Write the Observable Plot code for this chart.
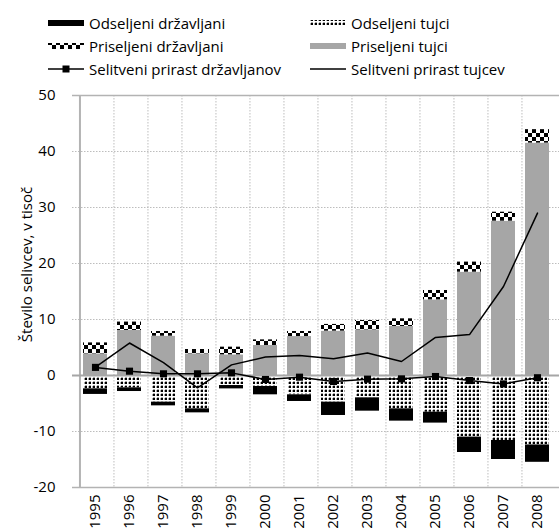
<!DOCTYPE html>
<html><head><meta charset="utf-8">
<script src="https://cdn.jsdelivr.net/npm/d3@7"></script>
<script src="https://cdn.jsdelivr.net/npm/@observablehq/plot@0.6"></script>
<style>
body{margin:0;background:#fff;font-family:"Open Sans", sans-serif;}
#legend{height:85px;box-sizing:border-box;padding:11px 0 0 48px;display:grid;grid-template-columns:262px 260px;grid-auto-rows:23px;font-size:15px;color:#000;}
.item{display:flex;align-items:center;white-space:nowrap;}
.item svg{margin-right:5px;flex:none;}
#chart svg{display:block;}
</style></head><body>
<svg width="0" height="0" style="position:absolute">
<defs>
<pattern id="pDots" width="4" height="4" patternUnits="userSpaceOnUse">
 <rect width="4" height="4" fill="#fff"/>
 <rect x="1" y="1" width="2" height="2" fill="#000"/>
 <rect x="0" y="1" width="1" height="2" fill="#aaa"/>
 <rect x="1" y="0" width="2" height="1" fill="#aaa"/>
</pattern>
<pattern id="pCheck" width="8" height="8" patternUnits="userSpaceOnUse">
 <rect width="8" height="8" fill="#fff"/>
 <rect x="0" y="0" width="4" height="4" fill="#000"/>
 <rect x="4" y="4" width="4" height="4" fill="#000"/>
</pattern>
</defs></svg>
<div id="legend"></div>
<div id="chart"></div>
<script>
const years = ["1995","1996","1997","1998","1999","2000","2001","2002","2003","2004","2005","2006","2007","2008"];
const odseljeniDrzavljani = [1.0, 0.66, 0.66, 0.72, 0.6, 1.49, 1.19, 2.38, 2.38, 2.2, 1.95, 2.75, 3.4, 3.1];
const odseljeniTujci = [2.38, 2.2, 4.76, 5.95, 1.79, 1.96, 3.45, 4.76, 3.99, 5.95, 6.55, 11.0, 11.6, 12.4];
const priseljeniDrzavljani = [1.95, 1.5, 0.84, 0.77, 1.37, 1.0, 0.9, 1.2, 1.67, 1.37, 1.67, 1.8, 1.6, 2.4];
const priseljeniTujci = [3.87, 8.04, 7.02, 3.87, 3.69, 5.36, 6.96, 7.92, 8.15, 8.75, 13.51, 18.45, 27.56, 41.5];
const prirastDrzavljanov = [1.45, 0.77, 0.3, 0.3, 0.47, -0.71, -0.3, -1.07, -0.65, -0.6, -0.18, -0.9, -1.5, -0.4];
const prirastTujcev = [1.5, 5.8, 2.3, -2.2, 1.9, 3.3, 3.55, 3.0, 4.0, 2.5, 6.8, 7.3, 15.9, 29.0];
const yTicks = [-20, -10, 0, 10, 20, 30, 40, 50];
const yTitle = "Število selivcev, v tisoč";

const names = {
  od: "Odseljeni državljani", ot: "Odseljeni tujci",
  pd: "Priseljeni državljani", pt: "Priseljeni tujci",
  sd: "Selitveni prirast državljanov", st: "Selitveni prirast tujcev"
};
const stackOrder = [names.pt, names.ot, names.pd, names.od];
const stackFills = ["#a6a6a6", "url(#pDots)", "url(#pCheck)", "#000"];

const bars = [];
years.forEach((yr, i) => {
  bars.push({year: yr, series: names.pt, value: priseljeniTujci[i]});
  bars.push({year: yr, series: names.ot, value: -odseljeniTujci[i]});
  bars.push({year: yr, series: names.pd, value: priseljeniDrzavljani[i]});
  bars.push({year: yr, series: names.od, value: -odseljeniDrzavljani[i]});
});
const lineD = years.map((yr, i) => ({year: yr, v: prirastDrzavljanov[i]}));
const lineT = years.map((yr, i) => ({year: yr, v: prirastTujcev[i]}));

// legend
const sw = {
  bar: f => `<svg width="36" height="10"><rect x="0" y="2" width="36" height="6" fill="${f}"/></svg>`,
  lineMarker: `<svg width="36" height="10"><line x1="0" x2="36" y1="5" y2="5" stroke="#000" stroke-width="1.5"/><rect x="14.5" y="1.5" width="7" height="7" fill="#000"/></svg>`,
  line: `<svg width="36" height="10"><line x1="0" x2="36" y1="5" y2="5" stroke="#000" stroke-width="1.5"/></svg>`
};
const legendItems = [
  [sw.bar("#000"), names.od], [sw.bar("url(#pDots)"), names.ot],
  [sw.bar("url(#pCheck)"), names.pd], [sw.bar("#a6a6a6"), names.pt],
  [sw.lineMarker, names.sd], [sw.line, names.st]
];
document.getElementById("legend").innerHTML = legendItems.map(([s, t]) => `<div class="item">${s}<span>${t}</span></div>`).join("");

const W = 559, H = 445;
const mL = 72, mR = 0, mT = 10, mB = 43;
const bw = Plot.scale({x: {type: "band", domain: years, range: [mL, W - mR]}}).bandwidth;
const grid = {stroke: "#bdbdbd", strokeDasharray: "1.5,1.5", strokeWidth: 1};

const chart = Plot.plot({
  width: W, height: H, marginLeft: mL, marginRight: mR, marginTop: mT, marginBottom: mB,
  style: {fontFamily: "'Open Sans', sans-serif", fontSize: "15px", color: "#000", background: "#fff"},
  x: {type: "band", domain: years, padding: 0, label: null},
  y: {domain: [-20, 50], label: null},
  color: {domain: stackOrder, range: stackFills},
  marks: [
    Plot.ruleY([10, 20, 30, 40, -10], grid),
    Plot.ruleX(years.slice(1), {x: d => d, dx: -bw / 2, ...grid}),
    Plot.barY(bars, {x: "year", y: "value", fill: "series", z: "series", order: stackOrder, insetLeft: 5, insetRight: 5}),
    Plot.ruleY([-20, 50], {stroke: "#b3b3b3", strokeWidth: 1.5}),
    Plot.ruleX([years[0]], {x: d => d, dx: -bw / 2, stroke: "#b3b3b3", strokeWidth: 2}),
    Plot.ruleY([0], {stroke: "#a6a6a6", strokeWidth: 2}),
    Plot.line(lineT, {x: "year", y: "v", stroke: "#000", strokeWidth: 1.5}),
    Plot.line(lineD, {x: "year", y: "v", stroke: "#000", strokeWidth: 1.5}),
    Plot.dot(lineD, {x: "year", y: "v", symbol: "square", r: 4, fill: "#000", stroke: "none"}),
    Plot.axisY({ticks: yTicks, tickSize: 0, tickPadding: 17, tickFormat: d => String(d), label: null, fontSize: 15}),
    Plot.axisX({tickSize: 0, tickRotate: -90, tickPadding: 7, label: null, fontSize: 15}),
    Plot.text([yTitle], {frameAnchor: "left", textAnchor: "middle", dx: -45, dy: -27, rotate: -90, fontSize: 15, fill: "#000"})
  ]
});
document.getElementById("chart").appendChild(chart);
</script>
</body></html>
